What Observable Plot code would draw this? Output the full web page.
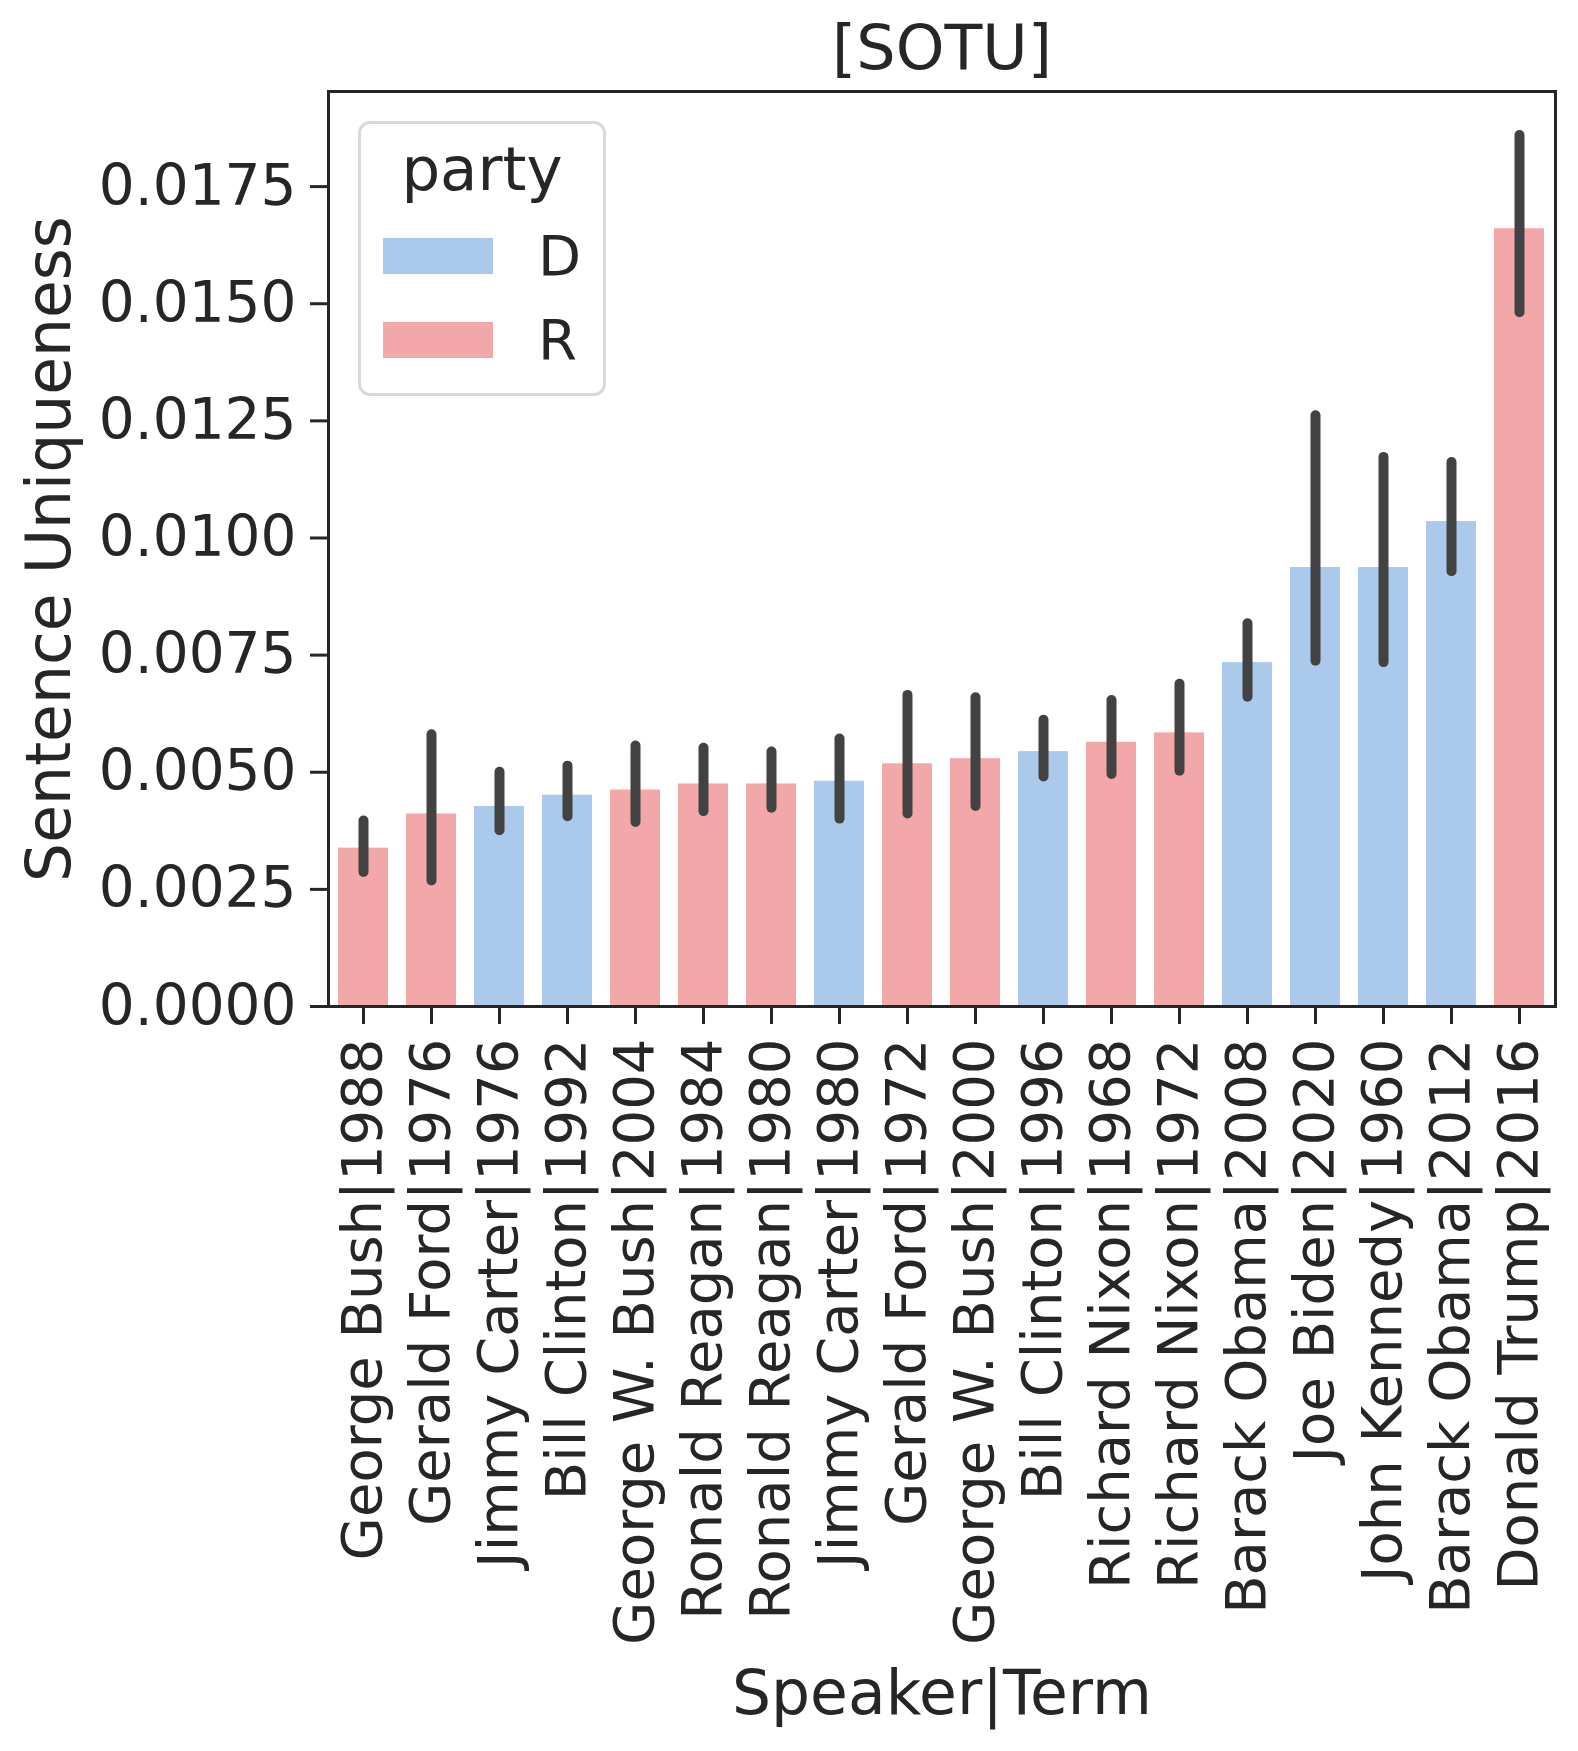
<!DOCTYPE html>
<html>
<head>
<meta charset="utf-8">
<script src="https://cdn.jsdelivr.net/npm/d3@7"></script>
<script src="https://cdn.jsdelivr.net/npm/@observablehq/plot@0.6"></script>
<style>
  html, body { margin: 0; padding: 0; background: #fff; }
  #wrap { position: relative; width: 1578px; height: 1751px; font-family: "DejaVu Sans", sans-serif; color: #262626; }
  #legend { position: absolute; left: 358px; top: 121px; width: 242px; height: 269px; border: 3px solid #d9d9d9; border-radius: 12px; background: rgba(255,255,255,0.8); box-sizing: content-box; }
  #legend .ttl { position: absolute; left: 0; width: 100%; top: 10px; text-align: center; font-size: 61px; line-height: 70px; }
  #legend .sw { position: absolute; left: 22px; width: 110px; height: 36px; }
  #legend .lab { position: absolute; left: 177px; font-size: 56px; line-height: 60px; }
</style>
</head>
<body>
<div id="wrap"></div>
<script>
// ---- data ----
const labels = ["George Bush|1988", "Gerald Ford|1976", "Jimmy Carter|1976", "Bill Clinton|1992", "George W. Bush|2004", "Ronald Reagan|1984", "Ronald Reagan|1980", "Jimmy Carter|1980", "Gerald Ford|1972", "George W. Bush|2000", "Bill Clinton|1996", "Richard Nixon|1968", "Richard Nixon|1972", "Barack Obama|2008", "Joe Biden|2020", "John Kennedy|1960", "Barack Obama|2012", "Donald Trump|2016"];
const parties = ["R","R","D","D","R","R","R","D","R","R","D","R","R","D","D","D","D","R"];
const values = [0.00338,0.00411,0.00427,0.00451,0.00462,0.00475,0.00475,0.00481,0.00518,0.00529,0.00544,0.00564,0.00584,0.00734,0.00937,0.00937,0.01035,0.01660];
const lows   = [0.00286,0.00268,0.00375,0.00405,0.00393,0.00416,0.00423,0.00400,0.00411,0.00427,0.00490,0.00495,0.00502,0.00660,0.00737,0.00734,0.00928,0.01481];
const highs  = [0.00396,0.00580,0.00500,0.00513,0.00556,0.00551,0.00543,0.00571,0.00664,0.00659,0.00611,0.00653,0.00688,0.00817,0.01261,0.01172,0.01161,0.01859];
const partyDomain = ["D", "R"];
const partyColors = ["#abc9eb", "#f2a8a8"];
const yTicks = [0, 0.0025, 0.005, 0.0075, 0.01, 0.0125, 0.015, 0.0175];
const titleText = "[SOTU]";
const xLabel = "Speaker|Term";
const yLabel = "Sentence Uniqueness";
const legendTitle = "party";

const rows = labels.map((label, i) => ({label, party: parties[i], value: values[i], lo: lows[i], hi: highs[i]}));

const ink = "#262626";
const chart = Plot.plot({
  width: 1578,
  height: 1751,
  marginLeft: 328,
  marginRight: 23,
  marginTop: 91,
  marginBottom: 745,
  style: {fontFamily: "DejaVu Sans, sans-serif", color: ink, background: "white", overflow: "visible"},
  x: {domain: labels, paddingInner: 0.26, paddingOuter: 0.13, label: null},
  y: {domain: [0, 0.01953], label: null},
  color: {domain: partyDomain, range: partyColors},
  marks: [
    Plot.barY(rows, {x: "label", y: "value", fill: "party"}),
    Plot.ruleX(rows, {x: "label", y1: "lo", y2: "hi", stroke: "#424242", strokeWidth: 10, strokeLinecap: "round"}),
    Plot.frame({stroke: ink, strokeWidth: 3}),
    Plot.axisX({tickRotate: -90, tickSize: 18, tickPadding: 14, fontSize: 56, strokeWidth: 3, stroke: ink, fill: ink, label: null}),
    Plot.axisY({ticks: yTicks, tickFormat: d3.format(".4f"), tickSize: 18, tickPadding: 14, fontSize: 56.5, strokeWidth: 3, stroke: ink, fill: ink, label: null}),
    Plot.text([titleText], {frameAnchor: "top", lineAnchor: "middle", dy: -42, fontSize: 62, fill: ink}),
    Plot.text([xLabel], {frameAnchor: "bottom", lineAnchor: "middle", dy: 688, fontSize: 61.5, fill: ink}),
    Plot.text([yLabel], {frameAnchor: "left", textAnchor: "middle", lineAnchor: "middle", rotate: -90, dx: -278, fontSize: 61.5, fill: ink})
  ]
});

const wrap = document.getElementById("wrap");
wrap.appendChild(chart);

// legend
const leg = document.createElement("div");
leg.id = "legend";
const t = document.createElement("div");
t.className = "ttl";
t.textContent = legendTitle;
leg.appendChild(t);
partyDomain.forEach((p, i) => {
  const sw = document.createElement("div");
  sw.className = "sw";
  sw.style.top = (114 + i * 84) + "px";
  sw.style.background = partyColors[i];
  leg.appendChild(sw);
  const lb = document.createElement("div");
  lb.className = "lab";
  lb.style.top = (102 + i * 84) + "px";
  lb.textContent = p;
  leg.appendChild(lb);
});
wrap.appendChild(leg);
</script>
</body>
</html>
